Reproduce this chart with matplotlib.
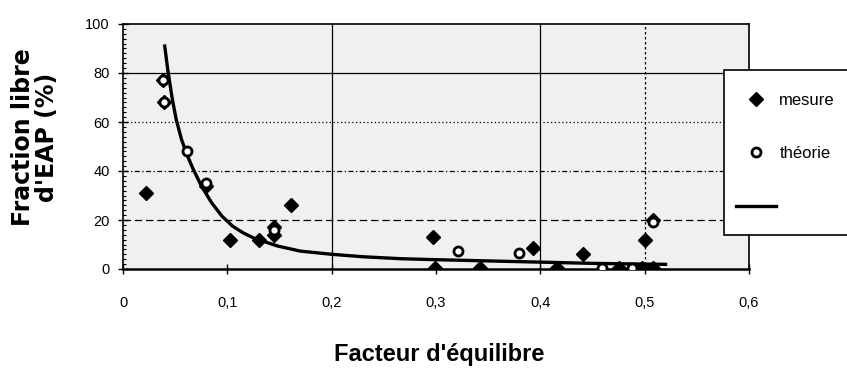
import matplotlib
matplotlib.use("Agg")
import matplotlib.pyplot as plt
from matplotlib.patches import Rectangle
from matplotlib.ticker import MultipleLocator

plt.rcParams["font.family"] = ["Liberation Sans", "DejaVu Sans"]

# measured free fraction vs equilibrium factor
MES_X = [0.022, 0.038, 0.039, 0.080, 0.103, 0.130, 0.145, 0.145, 0.161,
         0.297, 0.299, 0.342, 0.393, 0.416, 0.441, 0.475, 0.497, 0.500,
         0.508, 0.508]
MES_Y = [31, 77, 68, 34, 12, 12, 17, 14, 26,
         13, 0.5, 0.5, 8.5, 0.5, 6, 0.5, 0.5, 12,
         20, 0.5]

# theoretical points
TH_X = [0.038, 0.039, 0.061, 0.080, 0.145, 0.321, 0.380, 0.459, 0.488, 0.508]
TH_Y = [77, 68, 48, 35, 16, 7.3, 6.6, 0.5, 0.5, 19]

# theoretical curve
CURVE_X = [0.040, 0.043, 0.047, 0.051, 0.056, 0.061, 0.067, 0.075, 0.085,
           0.095, 0.105, 0.115, 0.125, 0.148, 0.170, 0.200, 0.230, 0.266,
           0.300, 0.350, 0.400, 0.450, 0.500, 0.520]
CURVE_Y = [91, 81, 70, 61, 53, 47, 41, 34, 27,
           21.5, 17.5, 14.8, 12.7, 9.4, 7.3, 6.0, 5.0, 4.2,
           3.8, 3.3, 2.8, 2.3, 2.0, 1.9]

X_TICKS = [0, 0.1, 0.2, 0.3, 0.4, 0.5, 0.6]
X_TICK_LABELS = ["0", "0,1", "0,2", "0,3", "0,4", "0,5", "0,6"]
Y_TICKS = [0, 20, 40, 60, 80, 100]

W, H = 847, 368
fig = plt.figure(figsize=(W / 100, H / 100), dpi=100)
ax = fig.add_axes([123 / W, 1 - 269 / H, 626 / W, 245 / H])
ax.set_facecolor("#f0f0f0")

# grid lines (as printed: mixed line styles)
hgrid = {20: (0, (6, 3)), 40: (0, (4, 2, 1, 2)), 60: (0, (1, 2)), 80: "-"}
for yv, ls in hgrid.items():
    ax.axhline(yv, color="black", lw=0.9, ls=ls, zorder=1)
for xv, ls in [(0.2, "-"), (0.4, "-"), (0.5, (0, (2, 2)))]:
    ax.axvline(xv, color="black", lw=0.9, ls=ls, zorder=1)

curve, = ax.plot(CURVE_X, CURVE_Y, color="black", lw=2.4, zorder=3)
mes, = ax.plot(MES_X, MES_Y, ls="none", marker="D", ms=7, color="black",
               zorder=4)
th, = ax.plot(TH_X, TH_Y, ls="none", marker="o", ms=6.5, mfc="white",
              mec="black", mew=2, zorder=5)

ax.set_xlim(0, 0.6)
ax.set_ylim(0, 100)
ax.set_xticks(X_TICKS)
ax.set_xticklabels(X_TICK_LABELS)
ax.set_yticks(Y_TICKS)
ax.yaxis.set_minor_locator(MultipleLocator(2))
ax.tick_params(axis="x", direction="inout", length=7, width=1, pad=16,
               labelsize=10.5)
ax.tick_params(axis="y", which="major", direction="inout", length=7, width=1,
               pad=6, labelsize=10.5)
ax.tick_params(axis="y", which="minor", direction="in", length=2.5, width=0.8)
for sp in ax.spines.values():
    sp.set_linewidth(1.2)
ax.spines["bottom"].set_linewidth(1.8)

ax.set_xlabel("Facteur d'équilibre", fontsize=17, fontweight="bold",
              labelpad=20)
ax.xaxis.set_label_coords(0.505, -0.30)
fig.text(35 / W, 1 - 137 / H, "Fraction libre\nd'EAP (%)", rotation=90,
         ha="center", va="center", ma="center", fontsize=17,
         fontweight="bold", family=["DejaVu Sans"], linespacing=0.95)

# legend panel on the right edge
fig.add_artist(Rectangle((724 / W, 1 - 235 / H), 130 / W, 165 / H,
                         transform=fig.transFigure, facecolor="white",
                         edgecolor="black", lw=1.2, zorder=6))
fig.legend([mes, th, curve], ["mesure", "théorie", ""],
           loc="upper left", bbox_to_anchor=(736 / W, 1 - 93 / H),
           frameon=False, fontsize=12, handlelength=2.4, handletextpad=0.2,
           labelspacing=2.3, borderpad=0, borderaxespad=0).set_zorder(7)

fig.savefig("out.png", dpi=100)
